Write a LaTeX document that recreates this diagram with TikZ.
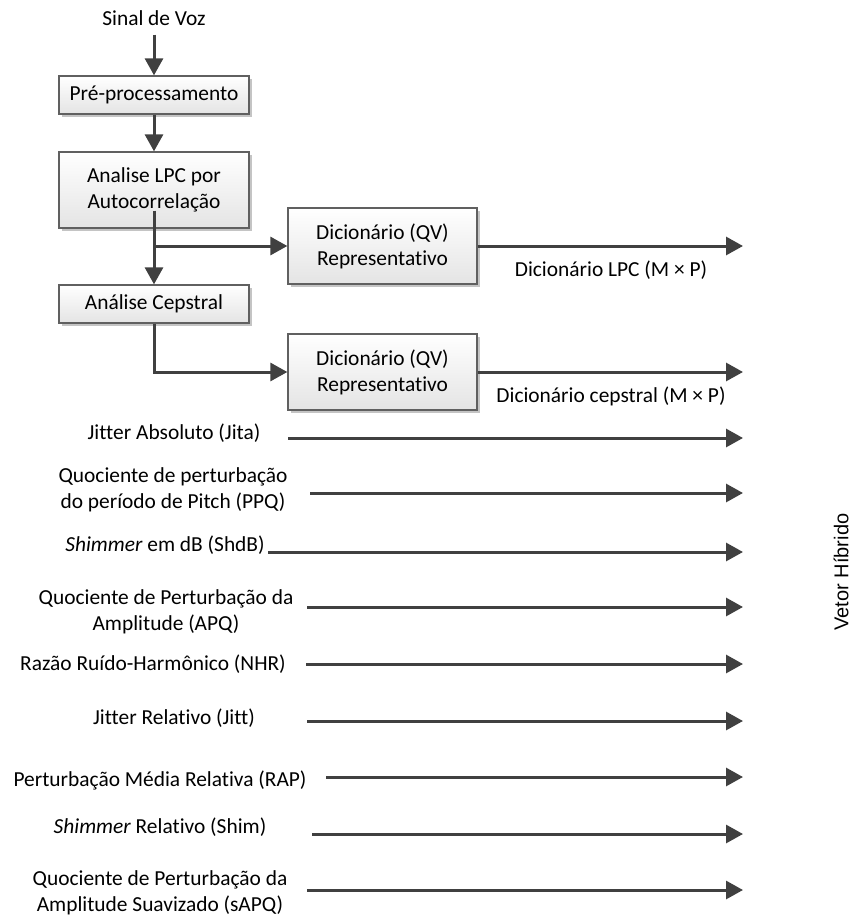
\documentclass[tikz,border=0pt]{standalone}
\usepackage{fontspec}
\setmainfont{Carlito}[Ligatures={NoCommon}]
\newfontfamily\sidefont{Liberation Sans}
\usetikzlibrary{arrows.meta,shadows}
\definecolor{linegray}{HTML}{404040}
\definecolor{boxline}{HTML}{606060}
\definecolor{boxfill}{HTML}{E4E4E4}
\definecolor{shadowgray}{HTML}{C4C4C4}
\begin{document}
\begin{tikzpicture}[x=1pt,y=-1pt,
  every node/.style={font=\fontsize{21.4}{26}\selectfont, align=center},
  blk/.style={draw=boxline, line width=1.3pt, top color=white, bottom color=boxfill,
    inner sep=0pt, minimum width=#1,
    drop shadow={shadow xshift=3pt, shadow yshift=-3pt, fill=shadowgray, opacity=1}},
  blk/.default=190pt,
  flow/.style={draw=linegray, line width=3pt, -{Triangle[length=17pt,width=18pt]}},
  feat/.style={inner sep=0pt}]
\useasboundingbox (0,0) rectangle (853,917);

% processing chain
\node[inner xsep=2pt, inner ysep=9pt] (sinal) at (154,18) {Sinal de Voz};
\node[blk, minimum height=38pt] (pre) at (154,95) {Pré-processamento};
\node[blk, minimum height=76pt] (lpc) at (154,190) {Analise LPC por\\Autocorrelação};
\node[blk, minimum height=76pt, blk=189pt] (dic1) at (382.5,246) {Dicionário (QV)\\Representativo};
\node[blk, minimum height=38pt] (cep) at (154,304) {Análise Cepstral};
\node[blk, minimum height=76pt, blk=189pt] (dic2) at (382.5,372) {Dicionário (QV)\\Representativo};

% the descending line starts inside the LPC block
\coordinate (lpcin) at ([yshift=18pt]lpc.south);
\coordinate (out1) at (743,246);
\coordinate (out2) at (743,372);

\draw[flow] (sinal) -- (pre);
\draw[flow] (pre) -- (lpc);
\draw[flow] (lpcin) -- (cep.north);
\draw[flow] (lpc.south |- dic1.west) -- (dic1.west);
\draw[flow] (cep.south) |- (dic2.west);
\draw[flow] (dic1.east) -- (out1);
\draw[flow] (dic2.east) -- (out2);

\node (lab1) at (611,270) {Dicionário LPC (M × P)};
\node (lab2) at (611,396) {Dicionário cepstral (M × P)};

% acoustic measures
\node[feat] (f1) at (174,433) {Jitter Absoluto (Jita)};
\node[feat] (f2) at (173,490) {Quociente de perturbação\\do período de Pitch (PPQ)};
\node[feat] (f3) at (165,545) {\textit{Shimmer} em dB (ShdB)};
\node[feat] (f4) at (166,612) {Quociente de Perturbação da\\Amplitude (APQ)};
\node[feat] (f5) at (153,664) {Razão Ruído-Harmônico (NHR)};
\node[feat] (f6) at (174,718) {Jitter Relativo (Jitt)};
\node[feat] (f7) at (160,780) {Perturbação Média Relativa (RAP)};
\node[feat] (f8) at (160,827) {\textit{Shimmer} Relativo (Shim)};
\node[feat] (f9) at (160,893) {Quociente de Perturbação da\\Amplitude Suavizado (sAPQ)};

\coordinate (s1) at (288,438); \coordinate (e1) at (743,438);
\coordinate (s2) at (310,493); \coordinate (e2) at (743,493);
\coordinate (s3) at (268,552); \coordinate (e3) at (743,552);
\coordinate (s4) at (307,607); \coordinate (e4) at (743,607);
\coordinate (s5) at (306,664); \coordinate (e5) at (743,664);
\coordinate (s6) at (307,721); \coordinate (e6) at (743,721);
\coordinate (s7) at (326,777); \coordinate (e7) at (743,777);
\coordinate (s8) at (312,834); \coordinate (e8) at (743,834);
\coordinate (s9) at (307,890); \coordinate (e9) at (743,890);
\foreach \i in {1,...,9} \draw[flow] (s\i) -- (e\i);

\node[font=\sidefont\fontsize{20}{24}\selectfont, rotate=90] (vetor) at (841,572) {Vetor Híbrido};
\end{tikzpicture}
\end{document}
